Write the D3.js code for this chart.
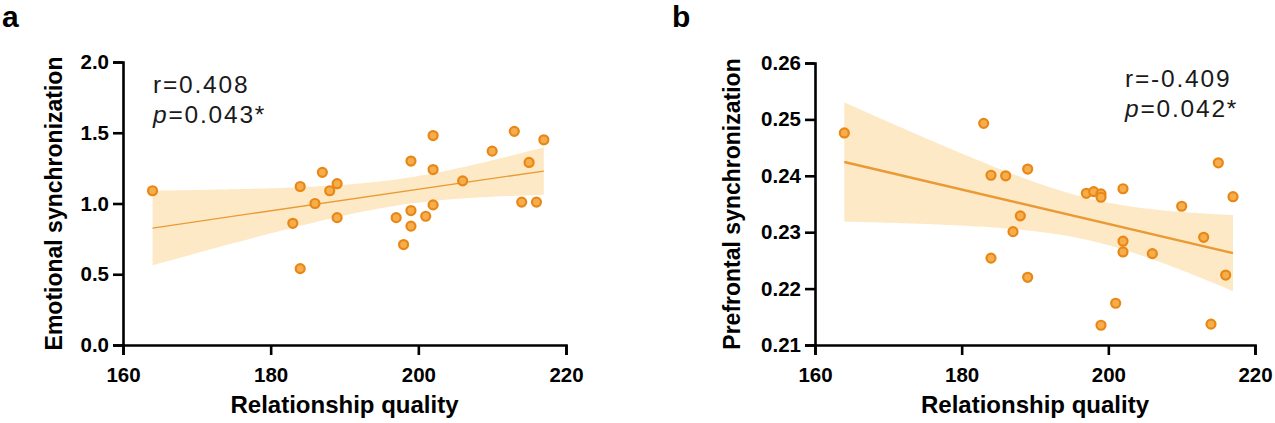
<!DOCTYPE html>
<html>
<head>
<meta charset="utf-8">
<script src="https://cdn.jsdelivr.net/npm/d3@7"></script>
<style>
  html, body { margin: 0; padding: 0; background: #fff; }
  svg { display: block; }
  text { font-family: "Liberation Sans", Arial, sans-serif; }
</style>
</head>
<body>
<svg id="chart" width="1275" height="423"></svg>
<script>
// ---- data ----
const quality = [164, 184, 187, 189, 188, 186, 183, 189, 184, 199, 202, 202, 202, 197, 199, 199, 201, 198, 206, 210, 213, 217, 215, 214, 216];
const emotional = [1.09, 1.12, 1.22, 1.14, 1.09, 1.00, 0.86, 0.90, 0.54, 1.30, 1.48, 1.24, 0.99, 0.90, 0.95, 0.84, 0.91, 0.71, 1.16, 1.37, 1.51, 1.45, 1.29, 1.01, 1.01];

const qualityB = [164, 183, 184, 186, 189, 188, 187, 184, 189, 197, 198, 199, 199, 202, 202, 202, 206, 201, 199, 210, 213, 215, 217, 216, 214];
const prefrontal = [0.2476, 0.2493, 0.2401, 0.2400, 0.2412, 0.2329, 0.2301, 0.2254, 0.2220, 0.2369, 0.2372, 0.2368, 0.2362, 0.2377, 0.2284, 0.2265, 0.2262, 0.2174, 0.2135, 0.2346, 0.2291, 0.2423, 0.2363, 0.2224, 0.2137];

const xTicks = [160, 180, 200, 220];
const yTicksA = [0.0, 0.5, 1.0, 1.5, 2.0];
const yTicksB = [0.21, 0.22, 0.23, 0.24, 0.25, 0.26];
const statsA = ["r=0.408", "0.043*"];
const statsB = ["r=-0.409", "0.042*"];

// ---- helpers ----
function fit(xs, ys) {
  const n = xs.length;
  const mx = d3.mean(xs), my = d3.mean(ys);
  let sxx = 0, sxy = 0;
  for (let i = 0; i < n; i++) { sxx += (xs[i]-mx)**2; sxy += (xs[i]-mx)*(ys[i]-my); }
  const b = sxy / sxx, a = my - b * mx;
  let sse = 0;
  for (let i = 0; i < n; i++) sse += (ys[i] - (a + b*xs[i]))**2;
  const s = Math.sqrt(sse / (n - 2));
  const t = 2.069; // t(0.975, 23)
  return { a, b, band: x => t * s * Math.sqrt(1/n + (x-mx)**2/sxx) };
}

const svg = d3.select("#chart");

function panel(opt) {
  const g = svg.append("g");
  const x = d3.scaleLinear().domain([160, 220]).range(opt.xr);
  const y = d3.scaleLinear().domain(opt.yd).range([345, opt.yTop]);
  const f = fit(opt.xs, opt.ys);
  const [x0, x1] = d3.extent(opt.xs);
  const grid = d3.range(x0, x1 + 0.001, 0.5);

  // CI band
  g.append("path")
    .datum(grid)
    .attr("fill", "#fde7bf")
    .attr("opacity", 0.9)
    .attr("d", d3.area()
      .x(d => x(d))
      .y0(d => y(f.a + f.b*d - f.band(d)))
      .y1(d => y(f.a + f.b*d + f.band(d))));

  // fit line
  g.append("line")
    .attr("x1", x(x0)).attr("x2", x(x1))
    .attr("y1", y(f.a + f.b*x0)).attr("y2", y(f.a + f.b*x1))
    .attr("stroke", "#ea9a34").attr("stroke-width", opt.lw);

  // points
  g.selectAll("circle.pt").data(opt.xs.map((d, i) => [d, opt.ys[i]]))
    .enter().append("circle")
    .attr("cx", d => x(d[0])).attr("cy", d => y(d[1]))
    .attr("r", 4.5)
    .attr("fill", "#f6ad4c").attr("stroke", "#e98716").attr("stroke-width", 2.2);

  // axes
  const xAxis = g.append("g").attr("transform", "translate(0,345)")
    .call(d3.axisBottom(x).tickValues(xTicks).tickSize(10).tickPadding(12).tickFormat(d3.format("d")));
  const yAxis = g.append("g").attr("transform", `translate(${opt.xr[0]},0)`)
    .call(d3.axisLeft(y).tickValues(opt.yt).tickSize(10).tickPadding(4).tickFormat(opt.fmt));
  [xAxis, yAxis].forEach(ax => {
    ax.select(".domain").attr("stroke", "#000").attr("stroke-width", 2.6);
    ax.selectAll(".tick line").attr("stroke", "#000").attr("stroke-width", 2.6);
    ax.selectAll(".tick text").attr("fill", "#000")
      .style("font-size", "20.5px").style("font-weight", "bold")
      .style("font-family", "'Liberation Sans', Arial, sans-serif");
  });

  // axis titles
  g.append("text")
    .attr("x", (opt.xr[0] + opt.xr[1]) / 2).attr("y", 413)
    .attr("text-anchor", "middle")
    .style("font-size", "24px").style("font-weight", "bold")
    .text("Relationship quality");
  g.append("text")
    .attr("transform", `translate(${opt.ylx},${(345 + opt.yTop)/2}) rotate(-90)`)
    .attr("text-anchor", "middle")
    .style("font-size", "23px").style("font-weight", "bold")
    .text(opt.ylabel);

  // panel letter
  g.append("text").attr("x", opt.letterX).attr("y", 27)
    .style("font-size", "30px").style("font-weight", "bold").text(opt.letter);

  // stats
  const st = g.append("g").style("font-size", "24.5px").style("letter-spacing", "1.8px").attr("fill", "#1a1a1a");
  st.append("text").attr("x", opt.sx).attr("y", opt.sy).text(opt.stats[0]);
  const t2 = st.append("text").attr("x", opt.sx).attr("y", opt.sy + 30);
  t2.append("tspan").style("font-style", "italic").text("p");
  t2.append("tspan").text("=" + opt.stats[1]);
}

panel({
  xs: quality, ys: emotional, xr: [123, 566], yd: [0, 2], yTop: 62, yt: yTicksA,
  fmt: d3.format(".1f"), lw: 1.3, ylabel: "Emotional synchronization", ylx: 62,
  letter: "a", letterX: 2, stats: statsA, sx: 153, sy: 93
});
panel({
  xs: qualityB, ys: prefrontal, xr: [815, 1255], yd: [0.21, 0.26], yTop: 63, yt: yTicksB,
  fmt: d3.format(".2f"), lw: 2.4, ylabel: "Prefrontal synchronization", ylx: 740,
  letter: "b", letterX: 672, stats: statsB, sx: 1125, sy: 87
});
</script>
</body>
</html>
